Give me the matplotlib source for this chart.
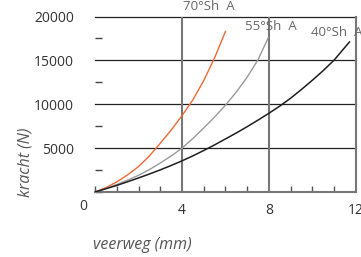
import matplotlib
matplotlib.use('Agg')
import matplotlib.pyplot as plt
from matplotlib.ticker import MultipleLocator

plt.rcParams['font.family'] = ['Open Sans', 'DejaVu Sans']

# data (veerweg mm -> kracht N)
x_70 = [0, 0.5, 1, 1.5, 2, 2.5, 3, 3.5, 4, 4.5, 5, 5.5, 6]
y_70 = [0, 500, 1150, 1950, 2900, 4100, 5550, 7050, 8700, 10500, 12700, 15300, 18300]

x_55 = [0, 0.5, 1, 1.5, 2, 2.5, 3, 3.5, 4, 4.5, 5, 5.5, 6, 6.5, 7, 7.5, 7.97]
y_55 = [0, 400, 850, 1350, 1900, 2550, 3300, 4100, 5000, 6100, 7300, 8550, 9900,
        11400, 13100, 15100, 17600]

x_40 = [0, 0.5, 1, 1.5, 2, 2.5, 3, 3.5, 4, 4.5, 5, 5.5, 6, 6.5, 7, 7.5, 8,
        8.5, 9, 9.5, 10, 10.5, 11, 11.7]
y_40 = [0, 370, 750, 1170, 1600, 2050, 2520, 3020, 3550, 4120, 4730, 5370, 6050,
        6730, 7450, 8200, 8980, 9800, 10700, 11700, 12750, 13850, 15050, 17100]

labels = ['70°Sh  A', '55°Sh  A', '40°Sh  A']
colors = ['#F06A35', '#9A9A9A', '#1E1E1E']

fig = plt.figure(figsize=(3.61, 2.57), dpi=100)
ax = fig.add_axes([95 / 361, 1 - 192 / 257, 261 / 361, 175.5 / 257])

ax.set_xlim(0, 12)
ax.set_ylim(0, 20000)

# grid lines
for yv in [5000, 10000, 15000, 20000]:
    ax.axhline(yv, color='#222222', lw=0.9, zorder=1, clip_on=False)
for xv in [4, 8]:
    ax.axvline(xv, color='#777777', lw=1.5, zorder=1)

ax.plot(x_70, y_70, color=colors[0], lw=1.0, zorder=3)
ax.plot(x_55, y_55, color=colors[1], lw=1.0, zorder=3)
ax.plot(x_40, y_40, color=colors[2], lw=1.1, zorder=3)

for sp in ['left', 'top']:
    ax.spines[sp].set_visible(False)
ax.spines['right'].set_color('#777777')
ax.spines['right'].set_linewidth(1.5)
ax.spines['bottom'].set_color('#777777')
ax.spines['bottom'].set_linewidth(1.5)

ax.set_xticks([4, 8, 12])
ax.set_xticklabels(['4', '8', '12'])
ax.xaxis.set_minor_locator(MultipleLocator(1))
ax.tick_params(axis='x', which='major', length=0, pad=8, labelsize=10, labelcolor='#333333')
ax.tick_params(axis='x', which='minor', direction='in', length=4, width=1, color='#555555')

ax.set_yticks([5000, 10000, 15000, 20000])
ax.yaxis.set_minor_locator(MultipleLocator(2500))
ax.tick_params(axis='y', which='major', length=0, pad=15, labelsize=10, labelcolor='#333333')
ax.tick_params(axis='y', which='minor', direction='in', length=5, width=1, color='#444444')

fig.text(83 / 361, 1 - 207 / 257, '0', fontsize=10, color='#333333', ha='center', va='center')

fig.text(26 / 361, 1 - 162 / 257, 'kracht (N)', fontsize=11.5, color='#555555',
         style='italic', rotation=90, ha='center', va='center')
fig.text(142 / 361, 1 - 245 / 257, 'veerweg (mm)', fontsize=11.5, color='#555555',
         style='italic', ha='center', va='center')

label_pos = [(183, 7), (245, 27), (311, 33)]
for lab, (px, py) in zip(labels, label_pos):
    fig.text(px / 361, 1 - py / 257, lab, fontsize=9.5, color='#666666', ha='left', va='center')

fig.savefig('out.png', dpi=100, facecolor='white')
